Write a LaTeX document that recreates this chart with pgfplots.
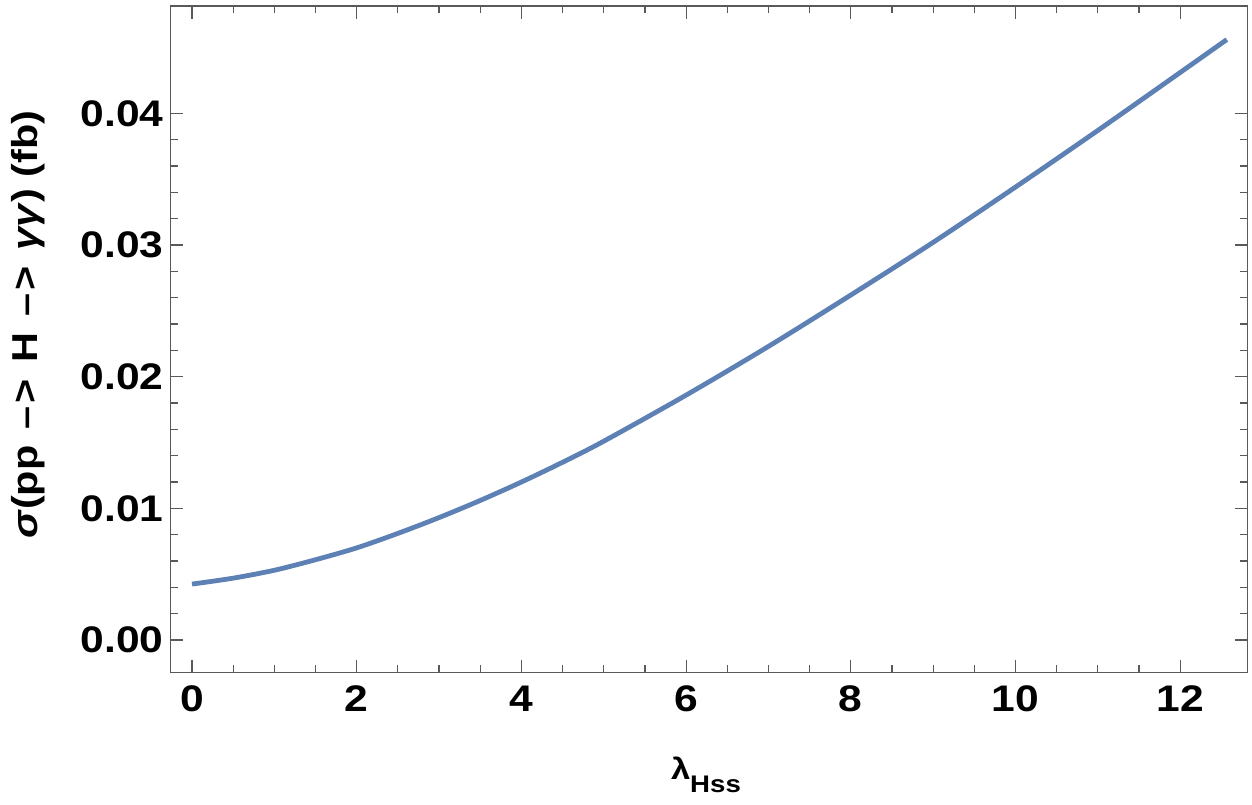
\documentclass[border=0pt]{standalone}
\usepackage{pgfplots}
\pgfplotsset{compat=1.18}
\usepackage{fontspec}
\setmainfont[FakeStretch=1.15]{Liberation Sans}
\definecolor{mmablue}{rgb}{0.368417,0.506779,0.709798}
\definecolor{framegray}{gray}{0.35}
\newcommand{\arr}{\hspace{0.45em}–\hspace{0.08em}>\hspace{0.45em}}

\begin{document}
\begin{tikzpicture}
\useasboundingbox (-85.35pt,-65.65pt) rectangle (540.65pt,336.35pt);
\begin{axis}[
  at={(0,0)}, anchor=south west,
  scale only axis, width=538.5pt, height=333.35pt,
  xmin=-0.259, xmax=12.82, ymin=-0.00248, ymax=0.04815,
  xtick={0,2,4,6,8,10,12}, minor x tick num=3,
  ytick={0,0.01,0.02,0.03,0.04}, minor y tick num=4,
  scaled y ticks=false,
  yticklabel style={/pgf/number format/.cd, fixed, fixed zerofill, precision=2, assume math mode=true},
  xticklabel style={/pgf/number format/assume math mode=true, yshift=-3pt},
  ticklabel style={font=\fontsize{18.5}{22}\selectfont\bfseries},
  tick align=inside,
  major tick length=6.35pt, minor tick length=3.65pt,
  every tick/.style={color=framegray, line width=0.6pt},
  axis line style={framegray, line width=0.7pt},
  every axis x label/.style={at={(axis description cs:0.497,-0.1609)}, anchor=base},
  every axis y label/.style={at={(axis description cs:-0.1241,0.522)}, anchor=base, rotate=90},
  xlabel={\fontsize{15}{18}\selectfont\bfseries λ\raisebox{-6.5pt}{\fontsize{12}{14}\selectfont Hss}},
  ylabel={\fontsize{18}{21}\selectfont\bfseries \textit{σ}(pp\arr H\arr\textit{γγ}) (fb)},
]
\addplot[mmablue, line width=2.4pt, smooth] coordinates {
(0,0.00425) (0.5,0.0047) (1,0.0053) (1.5,0.0061) (2,0.0070) (2.5,0.0081)
(3,0.0093) (3.5,0.0106) (4,0.0120) (4.5,0.0135) (5,0.0151)
(6,0.0186) (7,0.0223) (8,0.0262) (9,0.0302) (10,0.0344) (11,0.0387)
(12,0.0431) (12.566,0.0456)
};
\end{axis}
\end{tikzpicture}
\end{document}
